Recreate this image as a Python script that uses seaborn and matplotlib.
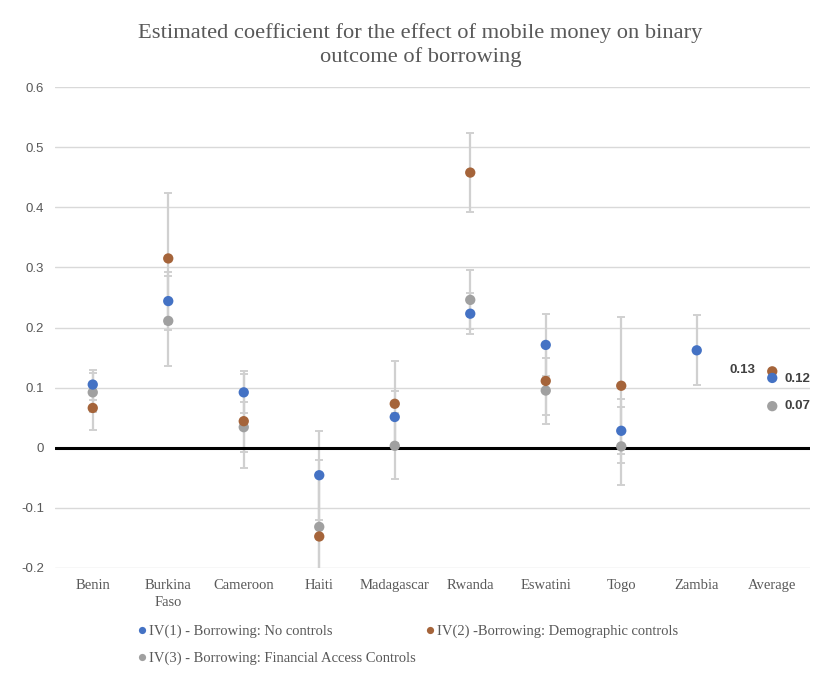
import numpy as np
import pandas as pd
import matplotlib
matplotlib.use("Agg")
import matplotlib.pyplot as plt
import seaborn as sns

# Estimated IV coefficients and error-bar half-widths per country
countries = ["Benin", "Burkina\nFaso", "Cameroon", "Haiti", "Madagascar",
             "Rwanda", "Eswatini", "Togo", "Zambia", "Average"]
nan = np.nan
iv1 = [0.105, 0.244, 0.092, -0.046, 0.051, 0.223, 0.171, 0.028, 0.162, 0.116]
iv1_err = [0.025, 0.048, 0.035, 0.074, 0.043, 0.034, 0.051, 0.053, 0.058, nan]
iv2 = [0.066, 0.315, 0.044, -0.148, 0.073, 0.458, 0.111, 0.103, nan, 0.127]
iv2_err = [0.037, 0.109, 0.078, 0.100, 0.071, 0.066, 0.057, 0.114, nan, nan]
iv3 = [0.092, 0.211, 0.034, -0.132, 0.003, 0.246, 0.095, 0.002, nan, 0.069]
iv3_err = [0.032, 0.075, 0.042, 0.112, 0.055, 0.049, 0.055, 0.065, nan, nan]

series_names = ["IV(1) - Borrowing: No controls",
                "IV(2) -Borrowing: Demographic controls",
                "IV(3) - Borrowing: Financial Access Controls"]
colors = ["#4472C4", "#A5643A", "#A0A0A0"]
yticks = [-0.2, -0.1, 0, 0.1, 0.2, 0.3, 0.4, 0.5, 0.6]
ytick_labels = ["-0.2", "-0.1", "0", "0.1", "0.2", "0.3", "0.4", "0.5", "0.6"]
title = "Estimated coefficient for the effect of mobile money on binary\noutcome of borrowing"

sns.set_theme(style="white")
serif = ["Liberation Serif", "DejaVu Serif"]
sans = ["Liberation Sans", "DejaVu Sans"]
text_color = "#595959"

pos = np.arange(len(countries))
frames = {}
for name, vals, errs in zip(series_names, [iv1, iv2, iv3], [iv1_err, iv2_err, iv3_err]):
    frames[name] = pd.DataFrame({"pos": pos, "country": countries, "value": vals,
                                 "err": errs, "series": name})
# drawing order: gray underneath, then brown, blue on top
df = pd.concat([frames[series_names[2]], frames[series_names[1]], frames[series_names[0]]],
               ignore_index=True)

fig = plt.figure(figsize=(8.15, 6.75), dpi=100)
ax = fig.add_axes([55 / 815, 107.3 / 675, 755 / 815, 480.4 / 675])

# light gray error bars beneath the markers
for name in series_names:
    sub = df[(df["series"] == name) & df["err"].notna()]
    ax.errorbar(sub["pos"], sub["value"], yerr=sub["err"], fmt="none",
                ecolor="#D0D0D0", elinewidth=1.6, capsize=3, capthick=1.4, zorder=2)

sns.scatterplot(data=df.dropna(subset=["value"]), x="pos", y="value", hue="series",
                hue_order=series_names, palette=colors, s=55, edgecolor="none",
                ax=ax, zorder=3, legend=True)

ax.axhline(0, color="black", linewidth=2.2, zorder=2.5)

ax.set_xlim(-0.5, len(countries) - 0.5)
ax.set_ylim(-0.2, 0.6)
ax.set_yticks(yticks)
ax.set_yticklabels(ytick_labels, fontfamily=sans, fontsize=9.5, color=text_color)
ax.set_xticks(pos)
ax.set_xticklabels(countries, fontfamily=serif, fontsize=10.5, color=text_color,
                   va="top", linespacing=1.4)
ax.tick_params(axis="y", length=0, pad=8)
ax.tick_params(axis="x", length=0, pad=8)
ax.yaxis.grid(True, color="#D9D9D9", linewidth=1.0)
ax.set_axisbelow(True)
for sp in ax.spines.values():
    sp.set_visible(False)
ax.set_xlabel("")
ax.set_ylabel("")

# value labels for the averages
avg_i = len(countries) - 1
offsets = [(9, -1), (-12, 1), (9, 0)]
aligns = ["left", "right", "left"]
for vals, off, ha in zip([iv1, iv2, iv3], offsets, aligns):
    v = vals[avg_i]
    ax.annotate(f"{v:.2f}", (avg_i, v), xytext=off, textcoords="offset points",
                ha=ha, va="center", fontsize=9.5, fontweight="bold",
                color="#404040", fontfamily=sans)

# legend below the plot: two entries on the first row, one on the second
handles, labels = ax.get_legend_handles_labels()
order = [0, 2, 1]
leg = ax.legend([handles[i] for i in order], [labels[i] for i in order],
                loc="upper left", bbox_to_anchor=(82 / 755, -0.118), ncol=2,
                frameon=False, handlelength=0.7, handletextpad=0.15,
                columnspacing=0.6, labelspacing=0.95, markerscale=0.7,
                borderaxespad=0, borderpad=0,
                prop={"family": serif, "size": 10.5})
for t in leg.get_texts():
    t.set_color(text_color)

fig.text(0.516, 0.966, title, ha="center", va="top", fontsize=16.2,
         family=serif, color=text_color, linespacing=1.28)

fig.savefig("out.png", dpi=100, facecolor="white")
